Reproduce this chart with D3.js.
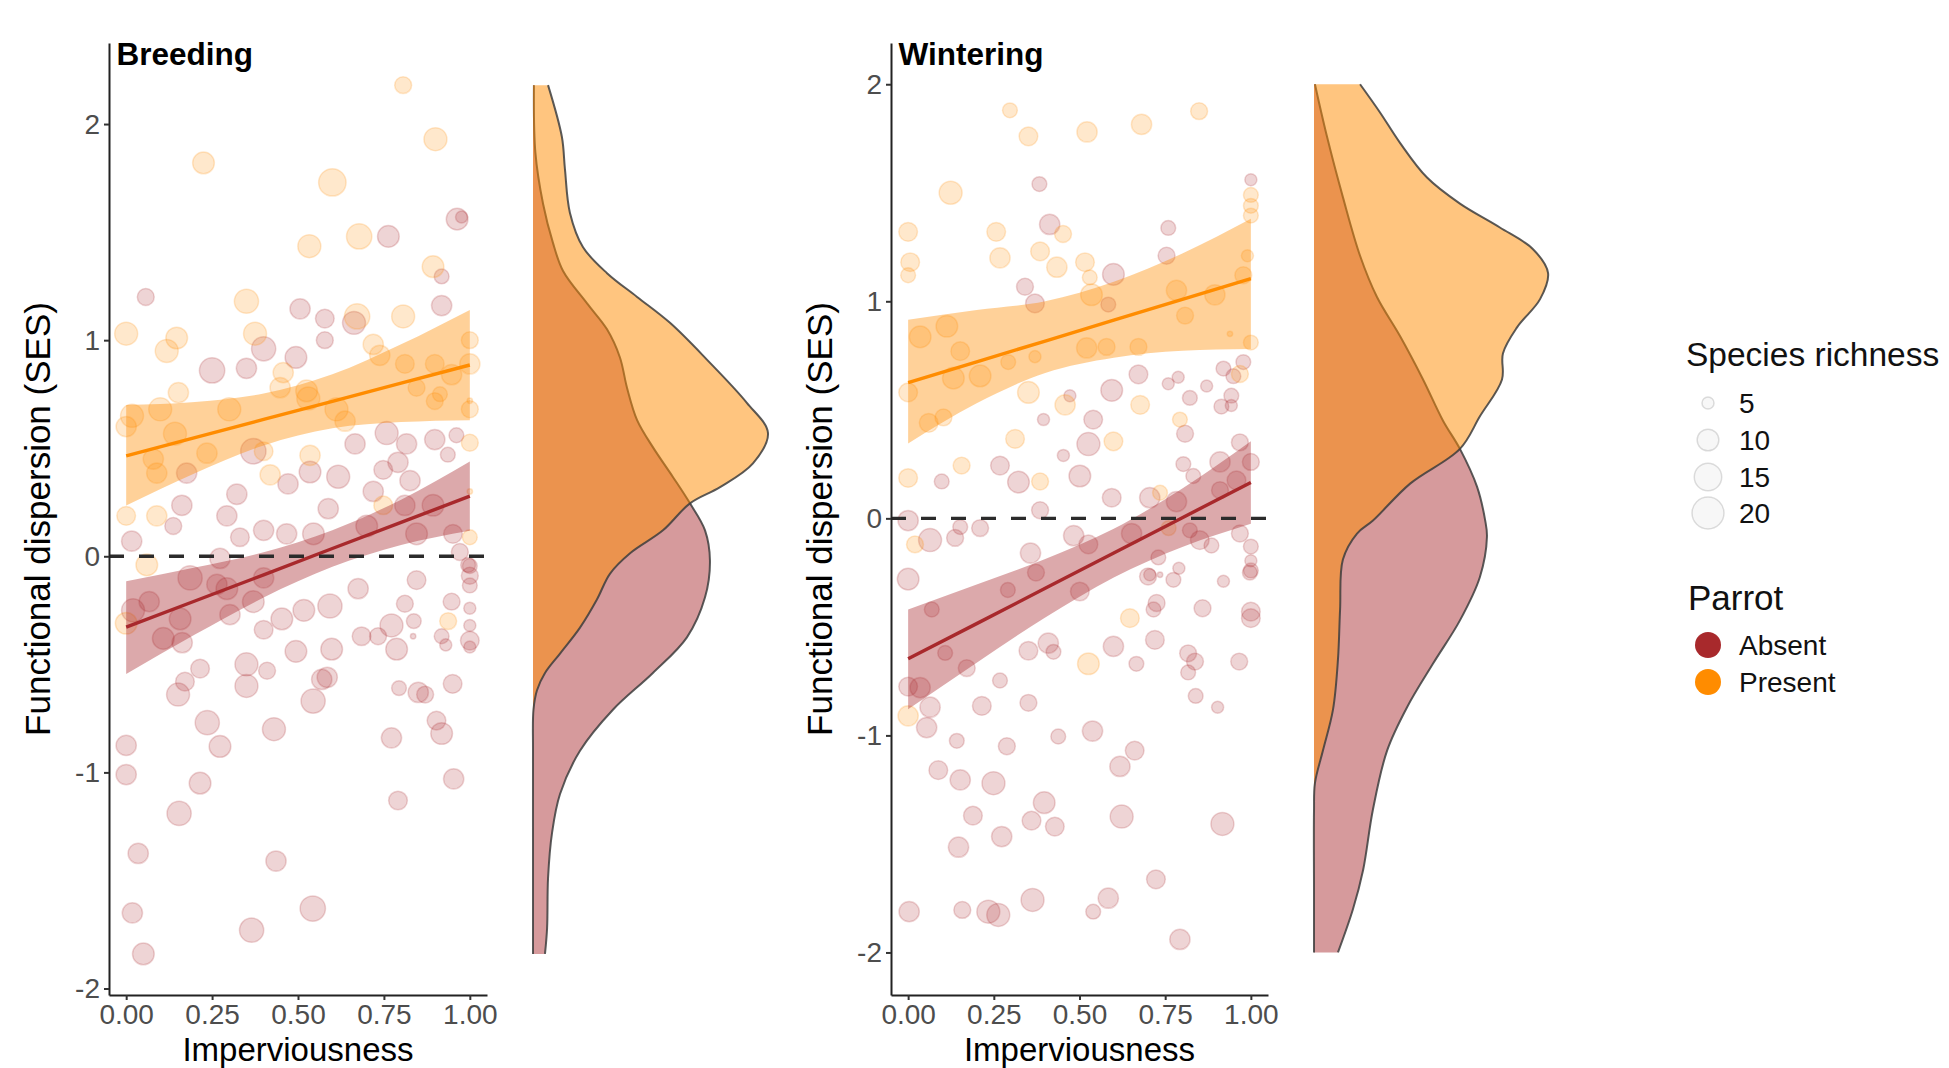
<!DOCTYPE html>
<html><head><meta charset="utf-8">
<script src="https://cdn.jsdelivr.net/npm/d3@7"></script>
<style>
body{margin:0;background:#fff;}
text{font-family:"Liberation Sans", Arial, Helvetica, sans-serif;}
</style>
</head><body>
<svg id="chart" width="1949" height="1068" xmlns="http://www.w3.org/2000/svg"></svg>
<script>
// ---------------- DATA ----------------
const groups = ["Absent", "Present"];
const groupColors = ["#A8292C", "#FF8C00"];
const xTicks = [0, 0.25, 0.5, 0.75, 1];
const xTickLabels = ["0.00", "0.25", "0.50", "0.75", "1.00"];
const yTicksBreeding = [-2, -1, 0, 1, 2];
const yTicksWintering = [-2, -1, 0, 1, 2];
const panelTitles = ["Breeding", "Wintering"];
const xTitle = "Imperviousness";
const yTitle = "Functional dispersion (SES)";
const sizeLegendValues = [5, 10, 15, 20];

// points: [imperviousness, FDis SES, species richness]
const breedingAbsent = [
 [0.00,-0.875,9],[0.00,-1.01,9],[0.035,-1.375,9],[0.018,-1.65,9],[0.05,-1.84,10],[0.154,-1.19,12],[0.215,-1.05,10],
 [0.236,-0.77,12],[0.273,-0.88,10],[0.215,-0.52,8],[0.171,-0.58,8],[0.151,-0.64,11],[0.35,-0.50,11],[0.35,-0.60,11],
 [0.41,-0.53,7],[0.43,-0.80,11],[0.436,-1.41,9],[0.365,-1.73,12],[0.543,-1.63,13],[0.494,-0.44,10],[0.544,-0.67,12],
 [0.569,-0.57,9],[0.585,-0.56,9],[0.598,-0.43,10],[0.593,-0.23,12],[0.517,-0.25,10],[0.453,-0.29,10],[0.40,-0.34,8],
 [0.675,-0.15,9],[0.685,-0.37,8],[0.733,-0.37,7],[0.772,-0.32,11],[0.787,-0.43,10],[0.811,-0.22,7],[0.837,-0.30,6],
 [0.845,-0.11,8],[0.835,-0.37,3],[0.794,-0.61,6],[0.85,-0.63,9],[0.87,-0.64,7],[0.903,-0.76,8],[0.918,-0.82,10],
 [0.772,-0.84,9],[0.791,-1.13,8],[0.953,-1.03,9],[0.95,-0.59,8],[0.947,-0.21,7],[0.918,-0.37,6],[0.93,-0.41,5],
 [1.0,-0.39,8],[1.0,-0.42,5],[1.0,-0.32,5],[1.0,-0.24,5],[1.0,-0.135,6],[1.0,-0.09,7],[0.995,-0.04,6],
 [0.02,-0.25,11],[0.067,-0.21,9],[0.108,-0.38,10],[0.157,-0.29,10],[0.163,-0.40,9],[0.186,-0.10,12],[0.264,-0.13,9],
 [0.302,-0.27,9],[0.293,-0.15,10],[0.37,-0.21,10],[0.40,-0.10,9],
 [0.763,1.48,10],[0.963,1.56,10],[0.976,1.57,5],[0.918,1.295,6],[0.057,1.20,7],[0.40,0.96,12],[0.35,0.87,9],
 [0.25,0.86,13],[0.506,1.145,9],[0.578,1.10,8],[0.578,1.0,7],[0.494,0.92,10],[0.663,1.08,11],[0.918,1.16,9],
 [0.961,0.56,6],[0.898,0.54,9],[0.936,0.47,6],[0.758,0.57,11],[0.816,0.52,9],[0.791,0.435,9],[0.748,0.40,8],
 [0.826,0.35,9],[0.811,0.235,9],[0.719,0.30,9],[0.666,0.52,9],[0.016,0.07,9],[0.176,0.385,9],[0.162,0.236,9],
 [0.137,0.14,7],[0.293,0.187,9],[0.322,0.287,9],[0.37,0.486,13],[0.471,0.335,9],[0.535,0.39,10],[0.617,0.368,11],
 [0.588,0.22,9],[0.545,0.104,10],[0.467,0.104,9],[0.40,0.12,9],[0.331,0.088,8],[0.273,-0.01,9],[0.70,0.14,10],
 [0.845,0.104,10],[0.893,0.236,10],[0.951,0.104,8],[0.971,0.02,7],[1.0,-0.045,6]
];
const breedingPresent = [
 [0.806,2.18,7],[0.90,1.93,11],[0.225,1.82,10],[0.60,1.73,15],[0.533,1.435,11],[0.678,1.48,13],[0.893,1.34,10],
 [0.0,1.03,11],[0.147,1.01,10],[0.118,0.95,11],[0.35,1.18,12],[0.375,1.03,11],[0.672,1.11,13],[0.806,1.11,11],
 [1.0,1.0,7],[1.0,0.89,9],[0.719,0.98,9],[0.738,0.93,9],[0.811,0.89,8],[0.898,0.89,8],[0.947,0.84,9],[0.845,0.78,7],
 [0.913,0.75,6],[1.0,0.68,7],[1.0,0.72,3],[1.0,0.525,7],[0.612,0.68,11],[0.637,0.625,9],[0.525,0.765,10],[0.53,0.73,11],
 [0.457,0.85,9],[0.448,0.78,9],[0.30,0.68,11],[0.152,0.757,9],[0.017,0.65,11],[0.0,0.60,9],[0.099,0.68,11],
 [0.142,0.567,11],[0.079,0.45,9],[0.089,0.385,9],[0.0,0.187,8],[0.089,0.187,9],[0.235,0.477,9],[0.40,0.486,8],
 [0.419,0.377,9],[0.535,0.467,9],[0.748,0.236,8],[1.0,0.088,6],[0.898,0.718,7],[0.937,-0.30,7],[0.0,-0.31,10],
 [0.06,-0.04,10],[1.0,0.30,3]
];
const winteringAbsent = [
 [0.383,1.54,6],[1.0,1.56,5],[0.413,1.354,9],[0.759,1.338,6],[0.599,1.124,10],[0.754,1.21,7],[0.341,1.067,7],
 [0.37,0.99,8],[0.584,0.985,6],[0.472,0.565,5],[0.395,0.455,5],[0.54,0.455,8],[0.526,0.342,11],[0.594,0.59,10],
 [0.672,0.663,8],[0.453,0.29,5],[0.759,0.62,5],[0.788,0.65,5],[0.822,0.555,6],[0.871,0.61,5],[0.92,0.69,6],
 [0.949,0.655,6],[0.978,0.72,6],[0.914,0.515,6],[0.943,0.565,6],[0.943,0.52,5],[0.808,0.39,7],[0.968,0.35,7],
 [0.098,0.17,6],[0.268,0.243,8],[0.322,0.167,10],[0.501,0.195,10],[0.594,0.095,8],[0.705,0.095,9],[0.803,0.25,6],
 [0.832,0.195,6],[0.91,0.26,9],[1.0,0.26,7],[0.958,0.175,8],[0.91,0.13,7],[0.783,0.077,9],[0.0,-0.01,9],
 [0.064,-0.10,11],[0.137,-0.09,7],[0.152,-0.04,6],[0.21,-0.045,7],[0.385,0.037,7],[0.483,-0.08,9],[0.526,-0.12,8],
 [0.652,-0.07,9],[0.73,-0.18,6],[0.822,-0.055,6],[0.851,-0.10,8],[0.885,-0.125,6],[0.968,-0.07,7],[1.0,-0.13,6],
 [1.0,-0.195,5],[1.0,-0.24,6],[0.0,-0.28,10],[0.357,-0.16,9],[0.705,-0.26,5],
 [0.069,-0.42,6],[0.108,-0.62,6],[0.171,-0.69,7],[0.0,-0.775,8],[0.035,-0.78,9],[0.064,-0.87,9],[0.054,-0.964,9],
 [0.142,-1.025,6],[0.215,-0.864,8],[0.268,-0.747,6],[0.288,-1.05,7],[0.351,-0.85,7],[0.351,-0.61,8],[0.409,-0.575,9],
 [0.424,-0.615,6],[0.438,-1.005,6],[0.501,-0.337,8],[0.538,-0.98,9],[0.599,-0.59,9],[0.666,-0.67,6],[0.716,-0.42,6],
 [0.725,-0.39,7],[0.72,-0.56,8],[0.70,-0.268,7],[0.774,-0.283,6],[0.735,-0.26,4],[0.817,-0.622,7],[0.837,-0.66,7],
 [0.817,-0.71,6],[0.839,-0.818,6],[0.859,-0.414,7],[0.92,-0.29,5],[0.903,-0.87,5],[0.966,-0.66,7],[0.997,-0.25,6],
 [1.0,-0.43,8],[1.0,-0.46,8],[0.79,-0.23,5],[0.088,-1.16,8],[0.152,-1.205,9],[0.249,-1.22,11],[0.189,-1.37,8],
 [0.147,-1.515,9],[0.273,-1.466,9],[0.36,-1.393,8],[0.397,-1.31,10],[0.428,-1.42,8],[0.618,-1.143,9],[0.661,-1.07,8],
 [0.623,-1.374,11],[0.917,-1.408,11],[0.723,-1.663,8],[0.584,-1.75,9],[0.54,-1.812,6],[0.363,-1.758,11],
 [0.003,-1.812,9],[0.158,-1.804,7],[0.234,-1.812,11],[0.263,-1.827,11],[0.793,-1.94,9],[0.291,-0.33,6],[0.373,-0.25,7]
];
const winteringPresent = [
 [0.297,1.88,6],[0.351,1.76,8],[0.522,1.78,9],[0.681,1.815,9],[0.849,1.876,7],[0.124,1.50,11],[1.0,1.49,6],
 [1.0,1.44,6],[1.0,1.395,6],[0.0,1.32,8],[0.257,1.32,8],[0.452,1.31,7],[0.99,1.21,5],[0.006,1.18,8],[0.0,1.12,6],
 [0.268,1.2,9],[0.385,1.23,8],[0.434,1.157,9],[0.516,1.18,8],[0.53,1.11,6],[0.978,1.12,7],[0.535,1.03,10],
 [0.783,1.05,9],[0.895,1.03,9],[0.808,0.934,7],[1.0,0.81,6],[0.035,0.836,10],[0.113,0.885,10],[0.152,0.77,8],
 [0.132,0.646,10],[0.21,0.656,10],[0.292,0.72,6],[0.37,0.745,5],[0.521,0.785,9],[0.579,0.79,7],[0.672,0.79,7],
 [0.0,0.58,8],[0.06,0.44,8],[0.103,0.465,7],[0.351,0.58,10],[0.458,0.523,9],[0.312,0.366,8],[0.677,0.523,8],
 [0.599,0.355,8],[0.968,0.665,7],[0.793,0.455,6],[0.156,0.243,7],[0.0,0.186,8],[0.385,0.17,7],[0.735,0.118,6],
 [0.02,-0.12,7],[0.76,-0.045,6],[0.0,-0.91,9],[0.526,-0.67,10],[0.647,-0.46,8],[0.939,0.85,3]
];

// fitted linear trends and confidence bands, read at these imperviousness values
const fitX = [0, 0.2, 0.4, 0.6, 0.8, 1.0];
const breedingAbsentFit = [-0.328, -0.207, -0.086, 0.036, 0.157, 0.278];
const breedingAbsentLo  = [-0.545, -0.362, -0.191, -0.049, 0.052, 0.118];
const breedingAbsentHi  = [-0.115, -0.052, 0.019, 0.121, 0.262, 0.438];
const breedingPresentFit = [0.465, 0.549, 0.633, 0.717, 0.801, 0.885];
const breedingPresentLo  = [0.235, 0.384, 0.513, 0.592, 0.621, 0.630];
const breedingPresentHi  = [0.700, 0.714, 0.753, 0.842, 0.981, 1.140];
const winteringAbsentFit = [-0.647, -0.485, -0.322, -0.160, 0.003, 0.165];
const winteringAbsentLo  = [-0.880, -0.665, -0.457, -0.272, -0.132, -0.025];
const winteringAbsentHi  = [-0.420, -0.305, -0.187, -0.048, 0.138, 0.355];
const winteringPresentFit = [0.625, 0.721, 0.817, 0.913, 1.009, 1.105];
const winteringPresentLo  = [0.345, 0.530, 0.670, 0.740, 0.772, 0.780];
const winteringPresentHi  = [0.915, 0.960, 1.000, 1.090, 1.220, 1.380];

// marginal densities: [FDis SES, relative density]
const breedingAbsentDensity = [
 [2.18,0.004],[1.87,0.01],[1.63,0.043],[1.45,0.085],[1.32,0.128],[1.17,0.23],[1.05,0.315],[0.92,0.37],[0.78,0.40],
 [0.63,0.443],[0.505,0.51],[0.366,0.596],[0.245,0.668],[0.12,0.732],[-0.02,0.753],[-0.19,0.732],[-0.375,0.655],
 [-0.54,0.51],[-0.71,0.34],[-0.90,0.20],[-1.10,0.115],[-1.28,0.081],[-1.49,0.064],[-1.72,0.06],[-1.84,0.051]
];
const breedingPresentDensity = [
 [2.18,0.064],[1.94,0.123],[1.79,0.136],[1.59,0.157],[1.43,0.213],[1.31,0.315],[1.20,0.443],[1.08,0.583],[0.91,0.74],
 [0.71,0.91],[0.57,1.0],[0.43,0.936],[0.32,0.796],[0.245,0.668],[0.12,0.553],[0.014,0.413],[-0.08,0.328],[-0.2,0.272],
 [-0.33,0.2],[-0.45,0.115],[-0.54,0.051],[-0.62,0.017],[-0.71,0.002],[-0.9,0],[-1.3,0],[-1.84,0]
];
const winteringAbsentDensity = [
 [2.0,0.004],[1.76,0.055],[1.48,0.123],[1.21,0.196],[1.02,0.268],[0.84,0.366],[0.64,0.464],[0.45,0.549],[0.32,0.621],
 [0.145,0.694],[-0.007,0.728],[-0.085,0.736],[-0.27,0.706],[-0.47,0.621],[-0.67,0.506],[-0.87,0.396],[-1.07,0.311],
 [-1.34,0.251],[-1.62,0.209],[-1.80,0.166],[-2.0,0.102]
];
const winteringPresentDensity = [
 [2.0,0.196],[1.87,0.281],[1.73,0.366],[1.57,0.481],[1.45,0.621],[1.34,0.791],[1.24,0.932],[1.13,0.996],[1.01,0.962],
 [0.88,0.864],[0.76,0.804],[0.64,0.80],[0.47,0.706],[0.32,0.621],[0.16,0.409],[-0.01,0.251],[-0.07,0.183],[-0.19,0.123],
 [-0.42,0.111],[-0.65,0.102],[-0.88,0.081],[-1.07,0.038],[-1.22,0.004],[-1.35,0],[-1.7,0],[-2.0,0]
];

// ---------------- DRAWING ----------------
const svg = d3.select("#chart");
svg.append("rect").attr("width",1949).attr("height",1068).attr("fill","#fff");

const rScale = d3.scaleLinear().domain([0,1]).range([2.7, 16.8]);
const radius = v => rScale(Math.sqrt(Math.max(0, v - 4) / 18));

const panels = [
 {title: panelTitles[0], xRange:[109,487], yDomain:[-2.03,2.375], yTicks:yTicksBreeding, dens0:533,
  pts:[breedingAbsent, breedingPresent],
  fit:[[breedingAbsentFit,breedingAbsentLo,breedingAbsentHi],[breedingPresentFit,breedingPresentLo,breedingPresentHi]],
  dens:[breedingAbsentDensity, breedingPresentDensity]},
 {title: panelTitles[1], xRange:[891,1268], yDomain:[-2.196,2.19], yTicks:yTicksWintering, dens0:1314,
  pts:[winteringAbsent, winteringPresent],
  fit:[[winteringAbsentFit,winteringAbsentLo,winteringAbsentHi],[winteringPresentFit,winteringPresentLo,winteringPresentHi]],
  dens:[winteringAbsentDensity, winteringPresentDensity]}
];

panels.forEach(p => {
  const x = d3.scaleLinear().domain([-0.05,1.05]).range(p.xRange);
  const y = d3.scaleLinear().domain(p.yDomain).range([995,43]);
  const g = svg.append("g");

  // points
  p.pts.forEach((arr, gi) => {
    g.append("g").selectAll("circle").data(arr).join("circle")
      .attr("cx", d => x(d[0])).attr("cy", d => y(d[1])).attr("r", d => radius(d[2]))
      .attr("fill", groupColors[gi]).attr("fill-opacity", 0.2)
      .attr("stroke", groupColors[gi]).attr("stroke-opacity", 0.2).attr("stroke-width", 1.5);
  });

  // ribbons + lines
  p.fit.forEach((f, gi) => {
    const rows = fitX.map((xv,i) => ({x:xv, fit:f[0][i], lo:f[1][i], hi:f[2][i]}));
    g.append("path").datum(rows)
      .attr("d", d3.area().x(d=>x(d.x)).y0(d=>y(d.lo)).y1(d=>y(d.hi)).curve(d3.curveMonotoneX))
      .attr("fill", groupColors[gi]).attr("fill-opacity", 0.4);
  });
  p.fit.forEach((f, gi) => {
    const rows = fitX.map((xv,i) => ({x:xv, fit:f[0][i]}));
    g.append("path").datum(rows)
      .attr("d", d3.line().x(d=>x(d.x)).y(d=>y(d.fit)))
      .attr("fill","none").attr("stroke", groupColors[gi]).attr("stroke-width", 3.4);
  });

  // zero line
  g.append("line").attr("x1", p.xRange[0]).attr("x2", p.xRange[1])
    .attr("y1", y(0)).attr("y2", y(0))
    .attr("stroke","#2b2b2b").attr("stroke-width",3.4).attr("stroke-dasharray","15,15");

  // axes
  const ax = g.append("g").attr("transform", `translate(${p.xRange[0]},0)`)
    .call(d3.axisLeft(y).tickValues(p.yTicks).tickSize(5).tickSizeOuter(0).tickPadding(4).tickFormat(d3.format("d")));
  const bx = g.append("g").attr("transform", "translate(0,995)")
    .call(d3.axisBottom(x).tickValues(xTicks).tickSize(5).tickSizeOuter(0).tickPadding(4).tickFormat((d,i)=>xTickLabels[i]));
  [ax,bx].forEach(a => {
    a.select(".domain").attr("stroke","#222").attr("stroke-width",2);
    a.selectAll(".tick line").attr("stroke","#333").attr("stroke-width",2);
    a.selectAll(".tick text").attr("fill","#4d4d4d").attr("font-size",28)
      .attr("font-family","'Liberation Sans', Arial, sans-serif");
  });
  ax.selectAll(".tick text").text(d => d < 0 ? "-" + Math.abs(d) : d);

  // titles
  g.append("text").attr("x", p.xRange[0] + 7.5).attr("y", 65).text(p.title)
    .attr("font-size", 31.5).attr("font-weight","bold").attr("fill","#000");
  g.append("text").attr("x", (p.xRange[0]+p.xRange[1])/2).attr("y", 1060.5).attr("text-anchor","middle")
    .attr("font-size", 33).attr("fill","#000").text(xTitle);
  g.append("text").attr("transform", `translate(${p.xRange[0]-59},519) rotate(-90)`).attr("text-anchor","middle")
    .attr("font-size", 35).attr("fill","#000").text(yTitle);

  // marginal density
  const dx = d3.scaleLinear().domain([0,1]).range([p.dens0, p.dens0 + 235]);
  const curve = d3.curveCatmullRom.alpha(0.5);
  const area = d3.area().y(d=>y(d[0])).x0(dx(0)).x1(d=>dx(d[1])).curve(curve);
  const line = d3.line().y(d=>y(d[0])).x(d=>dx(d[1])).curve(curve);
  const dAlpha = [0.47, 0.5];
  p.dens.forEach((dd, gi) => {
    g.append("path").datum(dd).attr("d", area).attr("fill", groupColors[gi]).attr("fill-opacity", dAlpha[gi]);
    g.append("path").datum(dd).attr("d", line).attr("fill","none").attr("stroke","#3d3d3d")
      .attr("stroke-width",2).attr("stroke-opacity",0.85);
  });
});

// ---------------- LEGEND ----------------
const lg = svg.append("g");
const lx = 1686, keyX = 1708, labX = 1739;
lg.append("text").attr("x", lx).attr("y", 366).attr("font-size",33.5).attr("fill","#111").text("Species richness");
const sizeY = [403, 440, 477, 513];
sizeLegendValues.forEach((v,i) => {
  lg.append("circle").attr("cx", keyX).attr("cy", sizeY[i]).attr("r", radius(v))
    .attr("fill","#000").attr("fill-opacity",0.03).attr("stroke","#000").attr("stroke-opacity",0.13).attr("stroke-width",1.5);
  lg.append("text").attr("x", labX).attr("y", sizeY[i]).attr("dy","0.35em").attr("font-size",28).attr("fill","#111").text(v);
});
lg.append("text").attr("x", lx + 2).attr("y", 610).attr("font-size",35).attr("fill","#111").text("Parrot");
const grpY = [645, 682];
groups.forEach((gname,i) => {
  lg.append("circle").attr("cx", keyX).attr("cy", grpY[i]).attr("r", 13).attr("fill", groupColors[i]);
  lg.append("text").attr("x", labX).attr("y", grpY[i]).attr("dy","0.35em").attr("font-size",28).attr("fill","#111").text(gname);
});
</script>
</body></html>
